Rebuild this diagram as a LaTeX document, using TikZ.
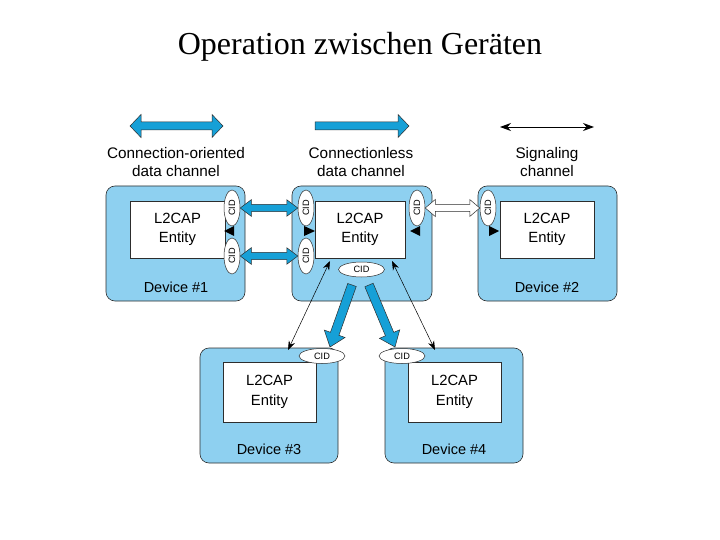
\documentclass[tikz,border=0pt]{standalone}
\usepackage{fontspec}
\setmainfont{Liberation Sans}
\newfontfamily\titlefont{Liberation Serif}
\usetikzlibrary{arrows.meta,calc,shapes.geometric}
\definecolor{devblue}{RGB}{142,208,240}
\definecolor{arrblue}{RGB}{22,160,215}
\definecolor{edgec}{RGB}{45,45,45}

% fat double arrow: [style]{start}{end}{shaft half}{head half}{head length}
\newcommand\fatdbl[6][]{%
  \draw[#1] let \p1=(#2), \p2=(#3), \n1={atan2(\y2-\y1,\x2-\x1)},
    \n2={veclen(\x2-\x1,\y2-\y1)} in
    [shift={(\p1)}, rotate=\n1]
    (0,0) -- (#6,#5) -- (#6,#4) -- ({\n2-#6},#4) -- ({\n2-#6},#5) -- (\n2,0)
    -- ({\n2-#6},-#5) -- ({\n2-#6},-#4) -- (#6,-#4) -- (#6,-#5) -- cycle;}
% fat single arrow
\newcommand\fatsgl[6][]{%
  \draw[#1] let \p1=(#2), \p2=(#3), \n1={atan2(\y2-\y1,\x2-\x1)},
    \n2={veclen(\x2-\x1,\y2-\y1)} in
    [shift={(\p1)}, rotate=\n1]
    (0,#4) -- ({\n2-#6},#4) -- ({\n2-#6},#5) -- (\n2,0)
    -- ({\n2-#6},-#5) -- ({\n2-#6},-#4) -- (0,-#4) -- cycle;}

\tikzset{
  device/.style={draw=edgec, line width=0.6pt, fill=devblue, rounded corners=9pt,
    minimum height=115pt, inner sep=0pt},
  entity/.style={draw=edgec, line width=0.5pt, fill=white, inner sep=0pt,
    align=center, font=\fontsize{14.8}{19.5}\selectfont},
  devlabel/.style={font=\fontsize{14.5}{17}\selectfont, inner sep=0pt},
  legendtext/.style={align=center, font=\fontsize{15.3}{18}\selectfont, inner sep=0pt},
  cidv/.style={ellipse, draw=edgec, line width=0.5pt, fill=white, rotate=90,
    minimum width=36pt, minimum height=16pt, inner sep=0pt,
    font=\fontsize{9.2}{10}\selectfont},
  cidh/.style={ellipse, draw=edgec, line width=0.5pt, fill=white,
    minimum width=46pt, minimum height=15pt, inner sep=0pt,
    font=\fontsize{9.2}{10}\selectfont},
  bluearrow/.style={fill=arrblue, draw=edgec, line width=0.5pt, line join=miter},
  hollowarrow/.style={fill=white, draw=edgec, line width=0.5pt, line join=miter},
  sigline/.style={draw=black, line width=0.5pt,
    arrows={Stealth[length=9pt,width=6.5pt]-Stealth[length=9pt,width=6.5pt]}},
  legsig/.style={draw=black, line width=0.8pt,
    arrows={Stealth[length=11pt,width=8pt]-Stealth[length=11pt,width=8pt]}},
  sigtip/.style={fill=black},
}

\begin{document}
\begin{tikzpicture}[x=1pt,y=-1pt]
\useasboundingbox (0,0) rectangle (720,540);

% title
\node[font=\titlefont\fontsize{32}{36}\selectfont, inner sep=0pt] (title) at (360,47) {Operation zwischen Geräten};

% legend
\coordinate (lcoa) at (130,126); \coordinate (lcob) at (223,126);
\coordinate (lcla) at (315,126); \coordinate (lclb) at (409,126);
\coordinate (lsga) at (500,127); \coordinate (lsgb) at (594,127);
\fatdbl[bluearrow]{lcoa}{lcob}{4}{11.5}{11}
\fatsgl[bluearrow]{lcla}{lclb}{4}{11.5}{11}
\draw[legsig] (lsga) -- (lsgb);
\node[legendtext] (tco) at (176,162.5) {Connection-oriented\\data channel};
\node[legendtext] (tcl) at (361,162.5) {Connectionless\\data channel};
\node[legendtext] (tsg) at (547,162.5) {Signaling\\channel};

% devices
\node[device, minimum width=139pt] (d1) at (175.5,243.5) {};
\node[device, minimum width=140pt] (dc) at (362,243.5) {};
\node[device, minimum width=139pt] (d2) at (547.5,243.5) {};
\node[device, minimum width=138pt] (d3) at (269,405.5) {};
\node[device, minimum width=138pt] (d4) at (454,405.5) {};

% entities
\node[entity, minimum width=95pt, minimum height=57pt] (e1) at (177.5,229.5) {L2CAP\\Entity};
\node[entity, minimum width=90pt, minimum height=57pt] (ec) at (360,229.5) {L2CAP\\Entity};
\node[entity, minimum width=94pt, minimum height=57pt] (e2) at (547,229.5) {L2CAP\\Entity};
\node[entity, minimum width=93pt, minimum height=60pt] (e3) at (269.5,392) {L2CAP\\Entity};
\node[entity, minimum width=93pt, minimum height=60pt] (e4) at (454.5,392) {L2CAP\\Entity};

% device labels
\node[devlabel] (l1) at (176,287) {Device \#1};
\node[devlabel] (l2) at (547,287) {Device \#2};
\node[devlabel] (l3) at (269,449) {Device \#3};
\node[devlabel] (l4) at (454,449) {Device \#4};

% CIDs
\node[cidv] (c1a) at (232,208) {CID};
\node[cidv] (c1b) at (232,256) {CID};
\node[cidv] (cca) at (306,208) {CID};
\node[cidv] (ccb) at (306,256) {CID};
\node[cidv] (ccr) at (417,208) {CID};
\node[cidv] (c2) at (488,208) {CID};
\node[cidh] (ccd) at (361.5,269.5) {CID};
\node[cidh] (c3) at (322,356) {CID};
\node[cidh] (c4) at (402,356) {CID};

% connection-oriented channels (rotated nodes: south = right side, north = left side)
\fatdbl[bluearrow]{c1a.south}{cca.north}{3.7}{8.3}{11}
\fatdbl[bluearrow]{c1b.south}{ccb.north}{3.7}{8.3}{11}

% signaling channel between centre device and device 2
\fatdbl[hollowarrow]{ccr.south}{c2.north}{3.5}{8.5}{10}

% signaling endpoints (black tips)
\fill[sigtip] (224,231) -- (234,226) -- (234,236) -- cycle;
\fill[sigtip] (315,231) -- (304,226) -- (304,236) -- cycle;
\fill[sigtip] (410,231) -- (420,226) -- (420,236) -- cycle;
\fill[sigtip] (499,231) -- (489,226) -- (489,236) -- cycle;

% connectionless channels
\coordinate (b3s) at (352,285); \coordinate (b3e) at (330,347);
\coordinate (b4s) at (369,285); \coordinate (b4e) at (395,347);
\fatsgl[bluearrow]{b3s}{b3e}{4.5}{11}{14}
\fatsgl[bluearrow]{b4s}{b4e}{4.5}{11}{14}

% signaling diagonals
\coordinate (s3a) at (330,261); \coordinate (s3b) at (288,350);
\coordinate (s4a) at (392,261); \coordinate (s4b) at (435,350);
\draw[sigline] (s3a) -- (s3b);
\draw[sigline] (s4a) -- (s4b);
\end{tikzpicture}
\end{document}
